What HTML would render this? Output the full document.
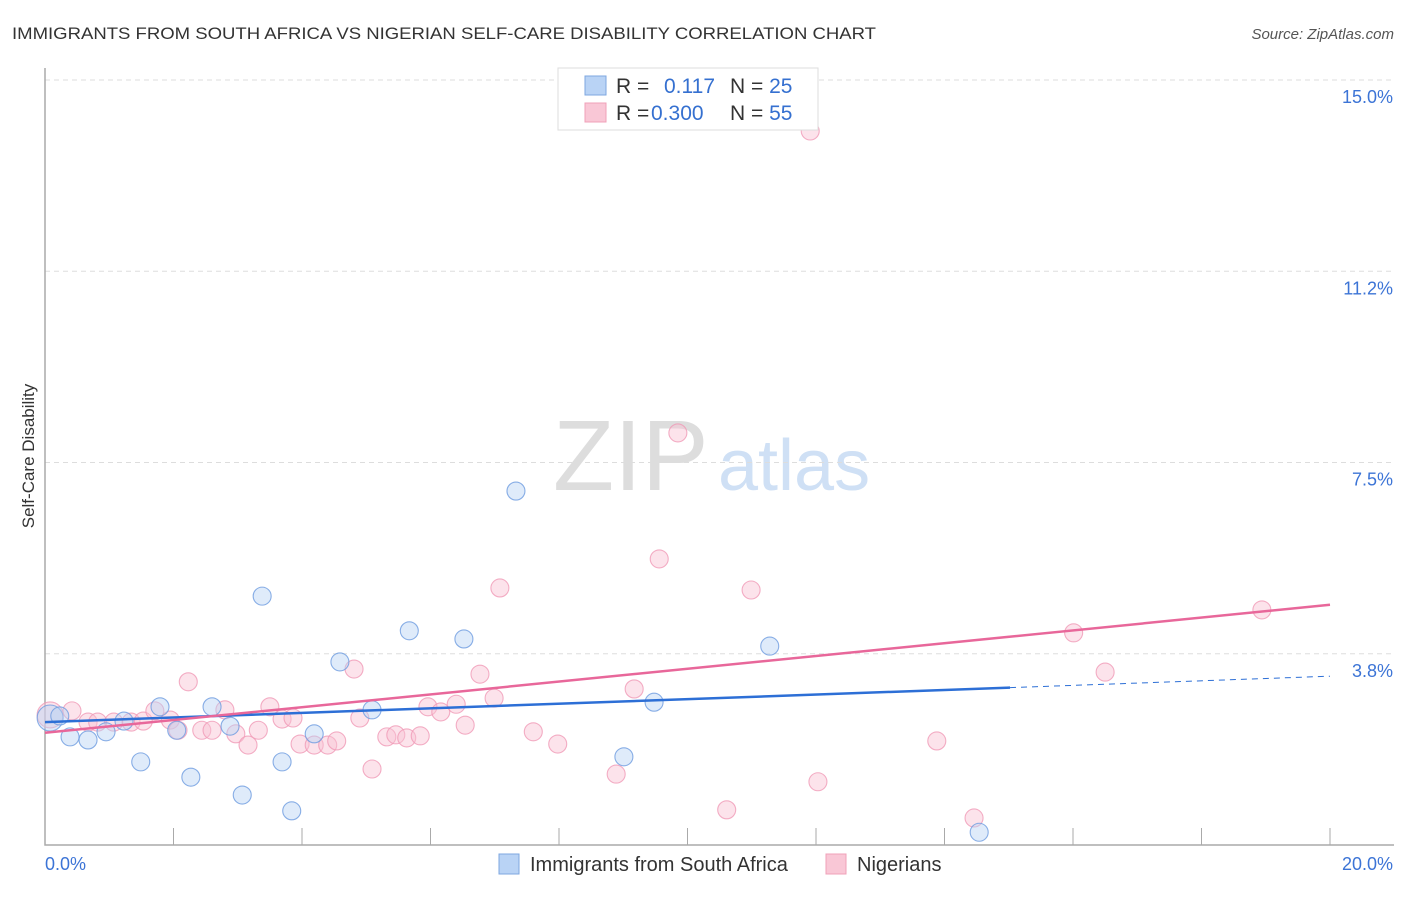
<!DOCTYPE html>
<html><head><meta charset="utf-8"><style>
body{margin:0;background:#fff;font-family:"Liberation Sans",sans-serif}
svg text{font-family:"Liberation Sans",sans-serif}
</style></head><body>
<svg id="c" width="1406" height="892" xmlns="http://www.w3.org/2000/svg">
<text x="12" y="39" font-size="17" fill="#333" textLength="864" lengthAdjust="spacingAndGlyphs">IMMIGRANTS FROM SOUTH AFRICA VS NIGERIAN SELF-CARE DISABILITY CORRELATION CHART</text>
<text x="1394" y="39" font-size="15" fill="#555" font-style="italic" text-anchor="end">Source: ZipAtlas.com</text>
<text x="34" y="456" font-size="17" fill="#333" text-anchor="middle" transform="rotate(-90 34 456)">Self-Care Disability</text>
<g><text x="553" y="490" font-size="100" fill="#ddd" font-family="Liberation Serif">ZIP</text><text x="718" y="490" font-size="72" fill="#cfe0f5">atlas</text></g>
<g id="grid"></g><g id="pts"></g><g id="lines"></g>
<g>
<rect x="558" y="68" width="260" height="62" fill="#fff" stroke="#ddd"/>
<rect x="585" y="76" width="21" height="19" fill="#b9d3f5" stroke="#7ea7e0"/>
<rect x="585" y="103" width="21" height="19" fill="#f9c7d6" stroke="#f0a0b8"/>
<text x="616" y="93" font-size="21" fill="#333">R = <tspan x="664" fill="#3570d0">0.117</tspan></text>
<text x="730" y="93" font-size="21" fill="#333">N = <tspan fill="#3570d0">25</tspan></text>
<text x="616" y="120" font-size="21" fill="#333">R = <tspan x="651" fill="#3570d0">0.300</tspan></text>
<text x="730" y="120" font-size="21" fill="#333">N = <tspan fill="#3570d0">55</tspan></text>
</g>
<g>
<rect x="499" y="854" width="20" height="20" fill="#b9d3f5" stroke="#7ea7e0"/>
<text x="530" y="871" font-size="20" fill="#333">Immigrants from South Africa</text>
<rect x="826" y="854" width="20" height="20" fill="#f9c7d6" stroke="#f0a0b8"/>
<text x="857" y="871" font-size="20" fill="#333">Nigerians</text>
</g>
</svg>
<script>
const yTicks=[3.75,7.5,11.25,15];
const yTickLabels=["3.8%","7.5%","11.2%","15.0%"];
const xTickLabels=["0.0%","20.0%"];
const blueX=[0.08,0.23,0.39,0.67,0.95,1.23,1.49,1.79,2.05,2.27,2.60,2.88,3.07,3.38,3.69,3.84,4.19,4.59,5.09,5.67,6.52,7.33,9.01,9.48,11.28,14.54];
const blueY=[2.49,2.53,2.12,2.06,2.22,2.43,1.63,2.71,2.25,1.33,2.71,2.33,0.98,4.88,1.63,0.67,2.18,3.59,2.65,4.20,4.04,6.94,1.73,2.80,3.90,0.25];
const pinkX=[0.08,0.42,0.67,0.82,1.07,1.34,1.53,1.71,1.95,2.07,2.23,2.44,2.60,2.80,2.97,3.16,3.32,3.50,3.69,3.86,3.97,4.19,4.40,4.54,4.81,4.90,5.09,5.32,5.46,5.63,5.84,5.96,6.16,6.40,6.54,6.77,6.99,7.08,7.60,7.98,8.89,9.17,9.56,9.85,10.61,10.99,11.91,12.03,13.88,14.46,16.01,16.50,18.94];
const pinkY=[2.55,2.63,2.41,2.41,2.41,2.41,2.43,2.63,2.45,2.25,3.20,2.25,2.25,2.65,2.18,1.96,2.25,2.71,2.47,2.49,1.98,1.96,1.96,2.04,3.45,2.49,1.49,2.12,2.16,2.10,2.14,2.71,2.61,2.76,2.35,3.35,2.88,5.04,2.22,1.98,1.39,3.06,5.61,8.08,0.69,5.00,14.0,1.24,2.04,0.53,4.16,3.39,4.61];
const blueTrend=[2.41,3.31];
const pinkTrend=[2.20,4.71];
const NS="http://www.w3.org/2000/svg";
const X=v=>45+v/20*1285, Y=v=>845-v*51;
function mk(t,a,p){const e=document.createElementNS(NS,t);for(const k in a)e.setAttribute(k,a[k]);document.getElementById(p).appendChild(e);return e;}
yTicks.forEach((t,i)=>{
 const g=mk('line',{x1:45,x2:1394,y1:Y(t),y2:Y(t),stroke:'#ddd','stroke-dasharray':'5,4'},'grid');
 
 
 const l=mk('text',{x:1393,y:Y(t)+23,'font-size':18,fill:'#3c74d6','text-anchor':'end'},'grid');l.textContent=yTickLabels[i];
 
 
});
const ax=mk('path',{d:'M45 68V845H1394',stroke:'#aaa',fill:'none','stroke-width':1.5},'grid');


for(let i=1;i<=10;i++){const t=mk('line',{x1:X(i*2),x2:X(i*2),y1:828,y2:845,stroke:'#aaa'},'grid');
 
 }
[[0,'start'],[20,'end']].forEach((d,i)=>{const l=mk('text',{x:X(d[0])+(i?63:0),y:870,'font-size':18,fill:'#3c74d6','text-anchor':d[1]},'grid');l.textContent=xTickLabels[i];
 
 });
function dots(xs,ys,f,s,n){xs.forEach((x,i)=>{const c=mk('circle',{cx:X(x),cy:Y(ys[i]),r:(i===0?13:9),fill:f,'fill-opacity':0.45,stroke:s,'stroke-opacity':0.8,'stroke-width':1.1},'pts');
 
 });}
dots(pinkX,pinkY,'#f9c0d2','#f09ab6','nigerian-point');
dots(blueX,blueY,'#b9d3f5','#6d9be0','south-africa-point');
const bEnd=15.02, bAt=v=>blueTrend[0]+(blueTrend[1]-blueTrend[0])*v/20;
const b1=mk('line',{x1:X(0),y1:Y(blueTrend[0]),x2:X(bEnd),y2:Y(bAt(bEnd)),stroke:'#2d6fd6','stroke-width':2.5},'lines');


const b2=mk('line',{x1:X(bEnd),y1:Y(bAt(bEnd)),x2:X(20),y2:Y(blueTrend[1]),stroke:'#2d6fd6','stroke-width':1,'stroke-dasharray':'6,5'},'lines');


const p1=mk('line',{x1:X(0),y1:Y(pinkTrend[0]),x2:X(20),y2:Y(pinkTrend[1]),stroke:'#e8679a','stroke-width':2.5},'lines');


</script>
</body></html>
